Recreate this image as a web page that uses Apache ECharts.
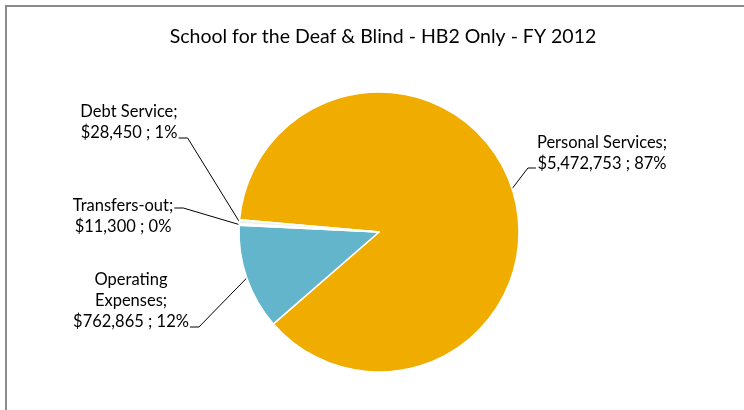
<!DOCTYPE html>
<html>
<head>
<meta charset="utf-8">
<script src="https://cdn.jsdelivr.net/npm/echarts@6/dist/echarts.min.js"></script>
<style>
  html, body { margin: 0; padding: 0; background: #fff; }
  #chart { width: 744px; height: 410px; }
</style>
</head>
<body>
<div id="chart"></div>
<script>
// FY 2012 HB2 spending by category (clockwise order around the pie)
const categories = ['Personal Services', 'Operating Expenses', 'Transfers-out', 'Debt Service'];
const labelNames = ['Personal Services', 'Operating\nExpenses', 'Transfers-out', 'Debt Service'];
const amounts = [5472753, 762865, 11300, 28450];
const sliceColors = ['#F0AD00', '#63B5CC', '#6DBE76', '#EEF2EC'];

const FONT = 'Lato, "Open Sans", sans-serif';

// Where each label block is centred, and which side its leader line attaches to
const labelPlacement = [
  { cx: 602, cy: 153, side: 'left',  lineDy: 15 },
  { cx: 131, cy: 301, side: 'right', lineDy: 26 },
  { cx: 123, cy: 216, side: 'right', lineDy: -8 },
  { cx: 129, cy: 122, side: 'right', lineDy: 16 }
];

const chart = echarts.init(document.getElementById('chart'), null, { renderer: 'canvas' });

const option = {
  backgroundColor: '#ffffff',
  animation: false,
  title: {
    text: 'School for the Deaf & Blind - HB2 Only - FY 2012',
    left: 378,
    top: 22,
    textAlign: 'center',
    textStyle: { fontFamily: FONT, fontSize: 19.5, fontWeight: 'normal', color: '#000' }
  },
  graphic: [{
    type: 'rect',
    shape: { x: 6, y: 6, width: 900, height: 600 },
    style: { fill: 'none', stroke: '#8a8a8a', lineWidth: 2 },
    silent: true,
    z: -1
  }],
  series: [{
    type: 'pie',
    center: [379, 232],
    radius: 140,
    startAngle: 175,
    clockwise: true,
    percentPrecision: 0,
    avoidLabelOverlap: false,
    itemStyle: { borderColor: '#ffffff', borderWidth: 1.5 },
    label: {
      show: true,
      position: 'outside',
      fontFamily: FONT,
      fontSize: 16.5,
      lineHeight: 21,
      color: '#000',
      align: 'center',
      formatter: function (p) {
        return labelNames[p.dataIndex] + ';\n$' + p.value.toLocaleString('en-US') + ' ; ' + p.percent + '%';
      }
    },
    labelLine: {
      show: true,
      length: 10,
      length2: 10,
      lineStyle: { color: '#000', width: 1 }
    },
    labelLayout: function (params) {
      const pl = labelPlacement[params.dataIndex];
      const w = params.labelRect.width;
      const left = pl.cx - w / 2;
      const right = pl.cx + w / 2;
      const y = pl.cy + pl.lineDy;
      const pts = params.labelLinePoints;
      const start = pts ? pts[0] : null;
      const out = { x: pl.cx, y: pl.cy, align: 'center', verticalAlign: 'middle' };
      if (start) {
        if (pl.side === 'left') {
          out.labelLinePoints = [start, [left - 9, y], [left - 1, y]];
        } else {
          out.labelLinePoints = [start, [right + 10, y], [right + 1, y]];
        }
      }
      return out;
    },
    data: categories.map(function (name, i) {
      return { name: name, value: amounts[i], itemStyle: { color: sliceColors[i] } };
    })
  }]
};

chart.setOption(option);
</script>
</body>
</html>
